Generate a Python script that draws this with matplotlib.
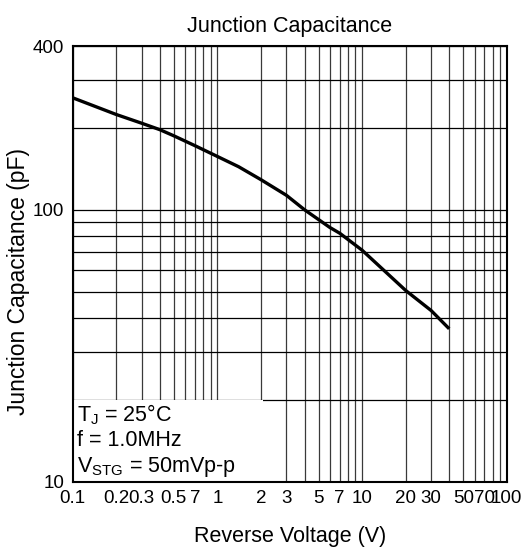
import numpy as np
import matplotlib
matplotlib.use("Agg")
import matplotlib.pyplot as plt
from matplotlib.patches import Rectangle

plt.rcParams['font.family'] = ['Liberation Sans', 'DejaVu Sans']
plt.rcParams['mathtext.fontset'] = 'custom'
plt.rcParams['mathtext.rm'] = 'Liberation Sans'

# curve
voltage = [0.1, 0.2, 0.3, 0.4, 0.5, 0.7, 1, 1.4, 2, 3, 4, 6, 7, 10, 20, 30, 40]
capacitance = [258, 224, 208, 197, 187, 172, 157, 144, 129, 113, 100, 86, 82, 71, 50.5, 42.6, 36.5]

x_ticks = [0.1, 0.2, 0.3, 0.5, 0.7, 1, 2, 3, 5, 7, 10, 20, 30, 50, 70, 100]
x_labels = ['0.1', '0.2', '0.3', '0.5', '7', '1', '2', '3', '5', '7', '10', '20', '30', '50', '70', '100']
y_ticks = [10, 100, 400]
y_labels = ['10', '100', '400']

fig = plt.figure(figsize=(5.29, 5.48), dpi=100)
ax = fig.add_axes([0.1375, 0.121, 0.8205, 0.795])
ax.set_xscale('log')
ax.set_yscale('log')
ax.set_xlim(0.1, 100)
ax.set_ylim(10, 400)

# grid
ax.grid(True, which='both', axis='x', color='#3a3a3a', linewidth=0.9)
ax.grid(True, which='both', axis='y', color='black', linewidth=0.9)
ax.set_axisbelow(True)

ax.plot(voltage, capacitance, color='black', linewidth=2.4, zorder=3,
        solid_capstyle='butt')

ax.set_xticks(x_ticks)
ax.set_xticklabels(x_labels)
ax.set_yticks(y_ticks)
ax.set_yticklabels(y_labels)
ax.xaxis.set_minor_formatter(plt.NullFormatter())
ax.yaxis.set_minor_formatter(plt.NullFormatter())
ax.tick_params(which='both', length=0, labelsize=13.5, pad=6)

for s in ax.spines.values():
    s.set_linewidth(1.5)
    s.set_zorder(5)

# conditions box
box = Rectangle((0.1, 10), 1.95, 10, facecolor='white', edgecolor='none', zorder=2)
ax.add_patch(box)
ax.text(0.107, 17.66, r'T$_\mathregular{J}$ = 25°C', fontsize=15.5, va='center', zorder=4)
ax.text(0.107, 14.15, 'f = 1.0MHz', fontsize=15.5, va='center', zorder=4)
ax.text(0.107, 11.33, r'V$_\mathregular{STG}$ = 50mVp-p', fontsize=15.5, va='center', zorder=4)

ax.set_title('Junction Capacitance', fontsize=15.5, pad=10)
ax.set_xlabel('Reverse Voltage (V)', fontsize=15.5, labelpad=14)
ax.set_ylabel('Junction Capacitance (pF)', fontsize=16.5, labelpad=2, y=0.46)

fig.savefig('out.png', dpi=100)
